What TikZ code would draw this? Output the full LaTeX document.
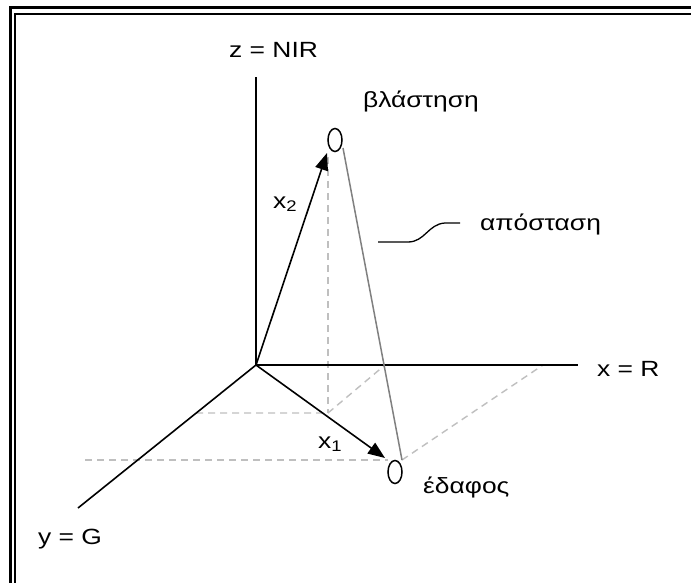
\documentclass[tikz,border=0pt]{standalone}
\usepackage{fontspec}
\setmainfont{Liberation Sans}
\newfontfamily\widesans[FakeStretch=1.2]{Liberation Sans}
\usetikzlibrary{arrows.meta,shapes.geometric}
\begin{document}
\begin{tikzpicture}[x=1pt,y=-1pt,
 axis/.style={line width=1.6pt,black},
 vec/.style={line width=1.6pt,-{Triangle[length=17pt,width=13pt]}},
 guide/.style={line width=1.4pt,black!25,dash pattern=on 7pt off 5pt},
 dist/.style={line width=1.5pt,black!50},
 lbl/.style={font=\widesans\fontsize{22}{24}\selectfont,inner sep=0pt,anchor=base west},
 blob/.style={draw,line width=1.5pt,ellipse,minimum width=14pt,minimum height=23pt,inner sep=0pt}]
\useasboundingbox (0,0) rectangle (691,583);
\clip (0,0) rectangle (691,583);
\fill[white] (0,0) rectangle (691,583);
% frame
\draw[line width=3pt] (10.5,8) rectangle (720,620);
\draw[line width=1.8pt] (15,14) rectangle (715,615);
% points
\coordinate (O) at (256,365);
\coordinate (zt) at (256,77);
\coordinate (xt) at (578,365);
\coordinate (yt) at (78,508);
\coordinate (p2) at (328,413);
\coordinate (p2y) at (196,413);
\coordinate (p2x) at (385,365);
\coordinate (p2t) at (328,157);
\coordinate (p1) at (388,460);
\coordinate (p1y) at (85,460);
\coordinate (p1x) at (543,365);
\coordinate (d1) at (343,148);
\coordinate (d2) at (402,460);
\coordinate (v2) at (327,153);
\coordinate (v1) at (385,458);
% guides
\draw[guide] (p2t) -- (p2);
\draw[guide] (p2y) -- (p2) -- (p2x);
\draw[guide] (p1y) -- (p1);
\draw[guide] (d2) -- (p1x);
% axes
\draw[axis] (O) -- (zt);
\draw[axis] (O) -- (xt);
\draw[axis] (O) -- (yt);
% distance
\draw[dist] (d1) -- (d2);
% vectors
\draw[vec] (O) -- (v2);
\draw[vec] (O) -- (v1);
% blobs
\node[blob] (veg) at (335,140) {};
\node[blob] (soil) at (395,472) {};
% labels
\node[lbl] (zl) at (229,58) {z = NIR};
\node[lbl] (xl) at (597,376) {x = R};
\node[lbl] (yl) at (38,544) {y = G};
\node[lbl] (vl) at (363,108) {βλάστηση};
\node[lbl] (al) at (480,230) {απόσταση};
\node[lbl] (sl) at (423,493) {έδαφος};
\node[lbl] (x2) at (273,208) {x\textsubscript{2}};
\node[lbl] (x1) at (318,448) {x\textsubscript{1}};
\coordinate (s1) at (378,242);
\coordinate (s2) at (460,223);
\draw[line width=1.3pt] (s1) -- (408,242) .. controls (425,242) and (428,224) .. (445,223) -- (s2);
\end{tikzpicture}
\end{document}
